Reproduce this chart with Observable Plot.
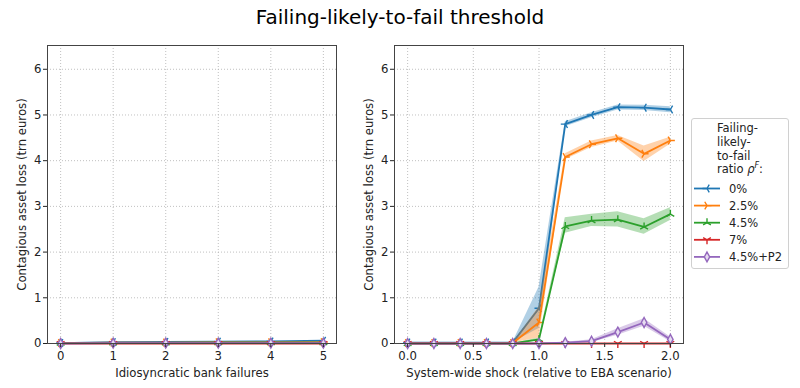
<!DOCTYPE html>
<html><head><meta charset="utf-8">
<script src="https://cdn.jsdelivr.net/npm/d3@7"></script>
<script src="https://cdn.jsdelivr.net/npm/@observablehq/plot@0.6"></script>
<style>
body{margin:0;background:#fff;font-family:"DejaVu Sans",sans-serif;}
#wrap{position:relative;width:800px;height:388px;overflow:hidden;background:#fff;}
#title{position:absolute;left:0;width:800px;top:7px;text-align:center;font-size:20px;line-height:20px;color:#000;white-space:nowrap;}
.panel{position:absolute;top:0;}
#legend{position:absolute;left:691px;top:118px;}
</style></head><body>
<div id="wrap">
<div id="title">Failing-likely-to-fail threshold</div>
<div id="left" class="panel" style="left:0px"></div>
<div id="right" class="panel" style="left:350px"></div>
<div id="legend"></div>
</div>
<script>
// ---- data ----
const seriesNames = ["0%", "2.5%", "4.5%", "7%", "4.5%+P2"];
const seriesColors = ["#1f77b4", "#ff7f0e", "#2ca02c", "#d62728", "#9467bd"];
const yTicks = [0, 1, 2, 3, 4, 5, 6];

// left panel: idiosyncratic bank failures
const failures = [0, 1, 2, 3, 4, 5];
const left0   = [0.01, 0.03, 0.035, 0.04, 0.045, 0.06];
const left25  = [0.01, 0.02, 0.02, 0.025, 0.025, 0.03];
const left45  = [0.01, 0.015, 0.015, 0.02, 0.02, 0.02];
const left7   = [0.0, 0.0, 0.0, 0.0, 0.0, 0.0];
const left45P2 = [0.0, 0.01, 0.01, 0.01, 0.01, 0.01];

// right panel: system-wide shock
const shock = [0.0, 0.2, 0.4, 0.6, 0.8, 1.0, 1.2, 1.4, 1.6, 1.8, 2.0];
const right0    = [0.02, 0.02, 0.02, 0.02, 0.02, 0.77, 4.8, 5.0, 5.17, 5.16, 5.12];
const right0Lo  = [0.02, 0.02, 0.02, 0.02, 0.02, 0.33, 4.74, 4.94, 5.11, 5.10, 5.05];
const right0Hi  = [0.02, 0.02, 0.02, 0.02, 0.02, 1.23, 4.85, 5.05, 5.22, 5.21, 5.18];
const right25   = [0.01, 0.01, 0.01, 0.01, 0.01, 0.46, 4.08, 4.36, 4.49, 4.15, 4.44];
const right25Lo = [0.01, 0.01, 0.01, 0.01, 0.01, 0.12, 4.02, 4.29, 4.43, 3.98, 4.36];
const right25Hi = [0.01, 0.01, 0.01, 0.01, 0.01, 0.80, 4.15, 4.43, 4.55, 4.32, 4.51];
const right45   = [0.0, 0.0, 0.0, 0.0, 0.0, 0.09, 2.56, 2.69, 2.71, 2.55, 2.83];
const right45Lo = [0.0, 0.0, 0.0, 0.0, 0.0, 0.06, 2.41, 2.56, 2.55, 2.39, 2.69];
const right45Hi = [0.0, 0.0, 0.0, 0.0, 0.0, 0.12, 2.75, 2.83, 2.88, 2.73, 2.97];
const right7    = [0.0, 0.0, 0.0, 0.0, 0.0, 0.0, 0.0, 0.0, 0.0, 0.0, 0.0];
const right45P2   = [0.0, 0.0, 0.0, 0.0, 0.0, 0.0, 0.02, 0.05, 0.25, 0.46, 0.09];
const right45P2Lo = [0.0, 0.0, 0.0, 0.0, 0.0, 0.0, 0.01, 0.02, 0.18, 0.38, 0.04];
const right45P2Hi = [0.0, 0.0, 0.0, 0.0, 0.0, 0.0, 0.03, 0.08, 0.32, 0.54, 0.14];

// ---- marker symbols (matplotlib tri_left, tri_right, tri_up, tri_down, thin_diamond) ----
function tri(angles) {
  return {draw(ctx, size) {
    const r = Math.sqrt(size / Math.PI);
    for (const a of angles) { ctx.moveTo(0, 0); ctx.lineTo(r * Math.cos(a), r * Math.sin(a)); }
  }};
}
const PI = Math.PI;
const thinDiamond = {draw(ctx, size) {
  const r = Math.sqrt(size / Math.PI) * 1.1;
  ctx.moveTo(0, -r); ctx.lineTo(0.55 * r, 0); ctx.lineTo(0, r); ctx.lineTo(-0.55 * r, 0); ctx.closePath();
}};
const seriesSymbols = [
  tri([PI, -PI / 3, PI / 3]),
  tri([0, -2 * PI / 3, 2 * PI / 3]),
  tri([-PI / 2, 5 * PI / 6, PI / 6]),
  tri([PI / 2, -5 * PI / 6, -PI / 6]),
  thinDiamond
];

const leftSeries = [left0, left25, left45, left7, left45P2];
const rightSeries = [
  [right0, right0Lo, right0Hi],
  [right25, right25Lo, right25Hi],
  [right45, right45Lo, right45Hi],
  [right7, right7, right7],
  [right45P2, right45P2Lo, right45P2Hi]
];

const font = {fontFamily: "DejaVu Sans, sans-serif", fontSize: "11.7px"};
const gridStyle = {stroke: "#b0b0b0", strokeOpacity: 1, strokeDasharray: "1,2", strokeWidth: 0.8};

function panel({xValues, series, xDomain, xTicks, xFormat, xLabel, width, marginLeft, marginRight}) {
  const marks = [
    Plot.gridX(xTicks, gridStyle),
    Plot.gridY(yTicks, gridStyle)
  ];
  series.forEach((s, i) => {
    const rows = xValues.map((x, j) => ({x, y: s[0][j], lo: s[1][j], hi: s[2][j]}));
    if (s[1] !== s[0]) {
      marks.push(Plot.areaY(rows, {x: "x", y1: "lo", y2: "hi", fill: seriesColors[i], fillOpacity: 0.35, curve: "linear"}));
    }
    marks.push(Plot.line(rows, {x: "x", y: "y", stroke: seriesColors[i], strokeWidth: 1.8}));
    marks.push(Plot.dot(rows, {x: "x", y: "y", symbol: seriesSymbols[i], r: 4.5, stroke: seriesColors[i], fill: i === 4 ? "#e6dcf0" : "none", strokeWidth: 1.4}));
  });
  marks.push(Plot.axisX({ticks: xTicks, tickFormat: xFormat, tickSize: 4, tickPadding: 4, label: xLabel, labelAnchor: "center", labelArrow: "none", labelOffset: 33, ...font, fill: "#222"}));
  marks.push(Plot.axisY({ticks: yTicks, tickFormat: d3.format("d"), tickSize: 4, tickPadding: 2, label: "Contagious asset loss (trn euros)", labelAnchor: "center", labelArrow: "none", labelOffset: 30, ...font, fill: "#222"}));
  marks.push(Plot.frame({stroke: "#444", strokeWidth: 1}));
  return Plot.plot({
    width, height: 388,
    marginLeft, marginRight, marginTop: 45, marginBottom: 45,
    style: {background: "transparent", fontFamily: "DejaVu Sans, sans-serif", fontSize: "11.7px", color: "#222"},
    x: {domain: xDomain},
    y: {domain: [0, 6.52]},
    marks
  });
}

const leftRows = leftSeries.map(s => [s, s, s]);
document.getElementById("left").appendChild(panel({
  xValues: failures, series: leftRows, xDomain: [-0.25, 5.25], xTicks: failures, xFormat: d3.format("d"),
  xLabel: "Idiosyncratic bank failures", width: 345, marginLeft: 47, marginRight: 9
}));
document.getElementById("right").appendChild(panel({
  xValues: shock, series: rightSeries, xDomain: [-0.1, 2.1], xTicks: [0, 0.5, 1, 1.5, 2], xFormat: d3.format(".1f"),
  xLabel: "System-wide shock (relative to EBA scenario)", width: 340, marginLeft: 44, marginRight: 7
}));

// ---- legend ----
const lg = d3.select("#legend").append("svg").attr("width", 98).attr("height", 151)
  .style("font-family", "DejaVu Sans, sans-serif").style("font-size", "11.5px");
lg.append("rect").attr("x", 0.5).attr("y", 0.5).attr("width", 97).attr("height", 150).attr("rx", 2.5)
  .attr("fill", "#fff").attr("stroke", "#d0d0d0");
const titleLines = ["Failing-", "likely-", "to-fail"];
titleLines.forEach((t, i) => lg.append("text").attr("x", 26).attr("y", 14 + i * 13.8).attr("fill", "#222").text(t));
const rt = lg.append("text").attr("x", 26).attr("y", 14 + 3 * 13.8).attr("fill", "#222");
rt.append("tspan").text("ratio ");
rt.append("tspan").attr("font-style", "italic").text("ρ");
rt.append("tspan").attr("dy", -5).attr("font-size", "8px").attr("font-style", "italic").text("F");
rt.append("tspan").attr("dy", 5).text(":");
seriesNames.forEach((name, i) => {
  const cy = 70.5 + i * 17.1;
  const g = lg.append("g");
  g.append("line").attr("x1", 3).attr("x2", 29).attr("y1", cy).attr("y2", cy).attr("stroke", seriesColors[i]).attr("stroke-width", 1.8);
  g.append("path").attr("transform", `translate(16,${cy})`).attr("d", d3.symbol(seriesSymbols[i], PI * 20)())
    .attr("stroke", seriesColors[i]).attr("fill", i === 4 ? "#e6dcf0" : "none").attr("stroke-width", 1.4);
  g.append("text").attr("x", 38).attr("y", cy + 4).attr("fill", "#222").text(name);
});
</script>
</body></html>
